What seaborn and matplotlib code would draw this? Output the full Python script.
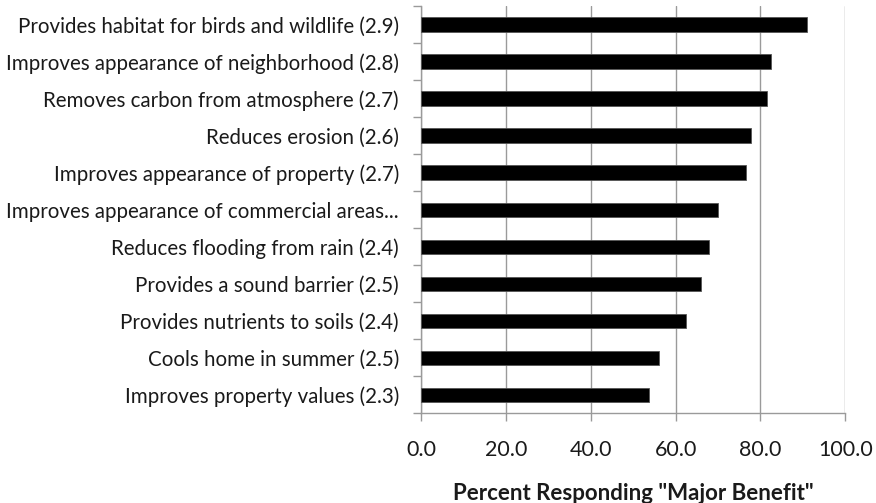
import numpy as np
import pandas as pd
import seaborn as sns
import matplotlib.pyplot as plt
from matplotlib.ticker import FixedLocator

benefits = [
    'Provides habitat for birds and wildlife (2.9)',
    'Improves appearance of neighborhood (2.8)',
    'Removes carbon from atmosphere (2.7)',
    'Reduces erosion (2.6)',
    'Improves appearance of property (2.7)',
    'Improves appearance of commercial areas...',
    'Reduces flooding from rain (2.4)',
    'Provides a sound barrier (2.5)',
    'Provides nutrients to soils (2.4)',
    'Cools home in summer (2.5)',
    'Improves property values (2.3)',
]
major_pct = [91.0, 82.4, 81.6, 77.8, 76.5, 69.9, 67.9, 65.9, 62.4, 56.1, 53.7]
x_ticks = [0, 20, 40, 60, 80, 100]

df = pd.DataFrame({'benefit': benefits, 'pct': major_pct})

sns.set_style('white')
plt.rcParams['font.family'] = ['Lato', 'DejaVu Sans']

fig, ax = plt.subplots(figsize=(8.76, 5.03), dpi=100)
fig.subplots_adjust(left=0.4806, right=0.965, top=0.988, bottom=0.178)

sns.barplot(data=df, y='benefit', x='pct', color='black', width=0.39,
            edgecolor='#555555', linewidth=0.6, ax=ax, zorder=3)

ax.set_xlim(0, 100)
ax.set_ylim(len(benefits) - 0.5, -0.5)
ax.set_xticks(x_ticks)
ax.set_xticklabels([f'{t:.1f}' for t in x_ticks], fontsize=15.5, color='#1a1a1a')
ax.grid(axis='x', color='#9a9a9a', linewidth=1.0, zorder=0)
ax.grid(axis='y', visible=False)

# ticks between categories on the y axis
ax.yaxis.set_minor_locator(FixedLocator(np.arange(-0.5, len(benefits), 1.0)))
ax.tick_params(axis='y', which='major', length=0, pad=16, labelsize=14.8,
               labelcolor='#1a1a1a')
ax.tick_params(axis='y', which='minor', length=6, width=1, color='#9a9a9a',
               direction='out', left=True)
ax.tick_params(axis='x', which='major', length=6, width=1, color='#9a9a9a',
               direction='out', pad=13, bottom=True)

for side in ['top', 'right']:
    ax.spines[side].set_visible(False)
for side in ['left', 'bottom']:
    ax.spines[side].set_color('#9a9a9a')
    ax.spines[side].set_linewidth(1.0)

ax.set_ylabel('')
ax.set_xlabel('Percent Responding "Major Benefit"', fontsize=16,
              fontweight='bold', color='#1a1a1a', labelpad=17)

fig.savefig('out.png', dpi=100)
